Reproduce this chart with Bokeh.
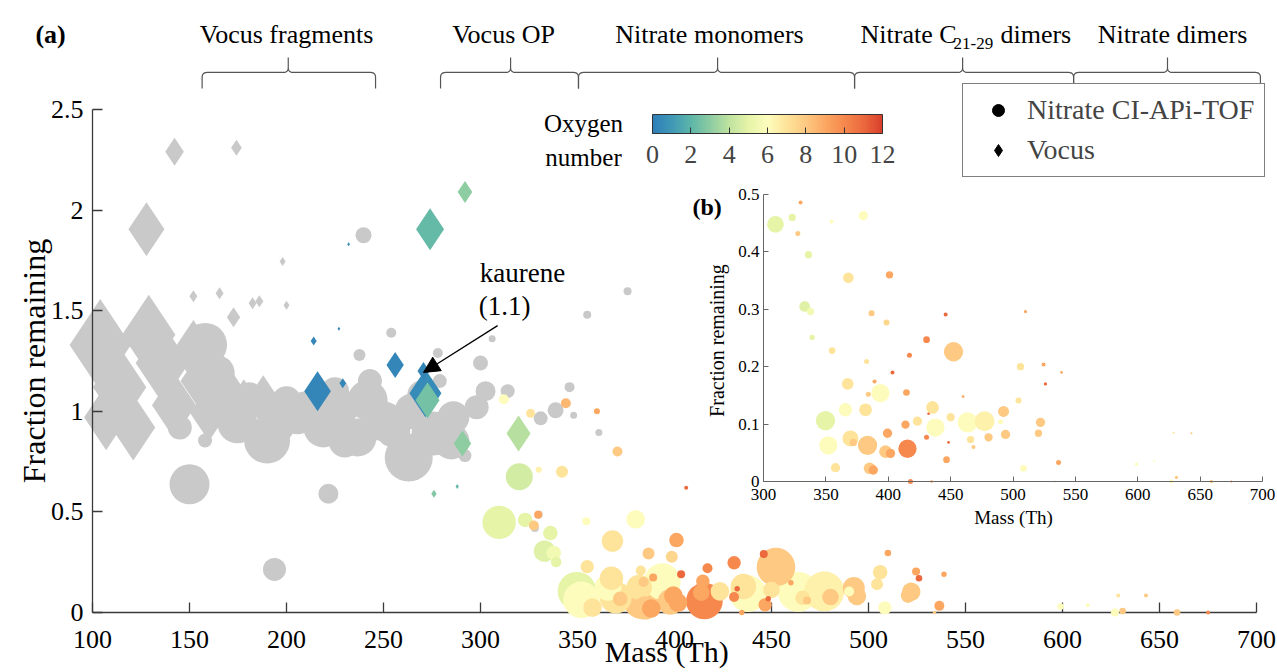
import numpy as np
from bokeh.plotting import figure
from bokeh.models import (Range1d, LinearAxis, ColumnDataSource, LinearColorMapper,
                          ColorBar, FixedTicker, Label, Arrow, NormalHead, Legend,
                          LegendItem, NumeralTickFormatter)
from bokeh.transform import transform
from bokeh.embed import file_html
from bokeh.resources import INLINE

# ------------------------------------------------------------------ data
# Nitrate CI-APi-TOF ions with an assigned oxygen number
nit_mass = [309.6, 323, 329.7, 327.5, 354.5, 380, 336, 368, 401, 333, 337.7, 386.6, 398.6, 446, 510,
            339, 430.7, 452.3, 355, 417, 382.6, 403.4, 506, 524.5, 538.9, 526, 367.5, 389, 393.7, 384,
            414.6, 460, 504.4, 365.7, 381.8, 435.5, 432.3, 492.4, 349.7, 423.4, 450, 463.6, 477.2, 490,
            522, 413.8, 437.8, 399.4, 369.7, 430.7, 466, 480.4, 494, 520.4, 352, 383.4, 372, 397.8,
            401.8, 415.4, 448.3, 468.3, 628.7, 643, 357.7, 385, 388, 446.7, 508.4, 536.5, 599, 613,
            417.8, 434.7, 627, 631, 659, 675, 534,
            312, 325.8, 344, 360, 370.6, 406, 320, 330, 342]
nit_frac = [0.448, 0.46, 0.486, 0.432, 0.453, 0.463, 0.395, 0.355, 0.36, 0.305, 0.296, 0.293, 0.277, 0.291, 0.296,
            0.251, 0.247, 0.226, 0.228, 0.22, 0.209, 0.19, 0.20, 0.204, 0.19, 0.17, 0.17, 0.174, 0.154, 0.152,
            0.155, 0.148, 0.141, 0.125, 0.125, 0.129, 0.118, 0.122, 0.106, 0.105, 0.112, 0.103, 0.105, 0.104,
            0.103, 0.099, 0.094, 0.084, 0.075, 0.077, 0.073, 0.077, 0.082, 0.084, 0.063, 0.063, 0.068, 0.052,
            0.049, 0.057, 0.068, 0.06, 0.085, 0.084, 0.024, 0.023, 0.02, 0.038, 0.023, 0.033, 0.03, 0.036,
            0.0, 0.0, 0.0, 0.007, 0.0, 0.0, 0.0,
            1.06, 0.99, 1.04, 1.0, 0.80, 0.62, 0.675, 0.71, 0.70]
nit_oxygen = [5, 5, 9, 8, 6, 6, 5, 7, 9, 4.8, 5.5, 8, 7.5, 11, 9,
              5, 10, 8, 7, 10, 7, 11, 7, 9, 9, 11, 7, 9, 6, 8,
              9, 9, 7, 6, 7, 7, 11, 8, 5, 7, 7, 6, 6.5, 6,
              8, 9, 6, 9, 7, 10, 7, 8, 8, 8, 6, 8, 8, 8,
              9, 10, 11, 8, 7, 8, 7, 8, 9, 9, 6, 9, 6, 6,
              10, 9, 6, 8, 8, 10, 8,
              6, 7, 8.5, 9, 8, 11, 4.5, 6.5, 7]
nit_signal = [16.7, 7.3, 4, 5, 4, 9.3, 7.3, 10.7, 7.3, 10.7, 7.3, 6, 6, 4, 3.3,
              5.3, 6.7, 19.3, 6.7, 5, 5, 4, 7.3, 4, 2.7, 3.3, 11.7, 4, 18.3, 5,
              6.7, 2.7, 6, 13.3, 12.7, 12.7, 2.7, 11, 19.3, 9.3, 8.3, 20, 20, 5,
              9.3, 8.3, 18.3, 9.3, 16, 5, 7.3, 8.3, 9.3, 7.3, 18.3, 19.3, 7.3, 12.7,
              9.3, 18.3, 2.7, 4, 2, 2, 9.3, 11.7, 9.3, 6.7, 6.7, 5, 3.3, 2,
              5, 2.7, 4, 3.3, 3.3, 2, 1.7,
              5, 4.5, 5, 3, 5, 2, 13.5, 3, 6]

# Nitrate CI-APi-TOF ions without oxygen assignment (grey circles)
gnit_mass = [239.7, 254, 306, 237.6, 278, 300, 355, 375.8, 158, 164, 150, 221.6, 193.8, 174.7, 190,
             205.7, 219, 236.6, 241.8, 255, 263, 275.8, 286, 298, 302.6, 292, 158, 145, 164, 181,
             200, 228, 243, 265, 279, 314, 331, 338.7, 345.9, 348, 361, 330, 328,
             210, 250, 285, 230, 170, 195, 270, 225]
gnit_frac = [1.875, 1.39, 1.36, 1.28, 1.29, 1.24, 1.48, 1.597, 1.33, 1.19, 0.637, 0.59, 0.214, 0.94, 0.855,
             0.97, 0.92, 0.87, 1.055, 0.905, 0.77, 0.89, 0.97, 1.02, 1.10, 0.78, 0.855, 0.92, 1.0, 1.08,
             1.05, 1.02, 1.15, 1.0, 1.15, 1.10, 0.965, 1.005, 1.12, 0.98, 0.895, 0.487, 0.42,
             1.0, 0.95, 0.85, 0.85, 1.05, 0.93, 1.08, 1.1]
gnit_signal = [8, 5, 3.5, 6, 5, 7.5, 4, 4, 22, 18, 20, 10, 11.5, 20, 23,
               17, 20, 19, 20, 17, 24, 22, 16, 12, 10, 6.5, 7, 12, 16, 13,
               15, 18, 12, 18, 7, 7, 7, 8, 5, 3.5, 3.5, 4, 4,
               20, 20, 18, 16, 16, 18, 15, 14]

# Vocus ions with an assigned oxygen number (Vocus OP)
voc_mass = [216, 214, 227, 229, 232, 256, 270.6, 271.6, 272.7, 274, 292, 290.7, 319.6, 276, 288]
voc_frac = [1.10, 1.35, 1.41, 1.14, 1.83, 1.23, 1.20, 1.09, 1.055, 1.905, 2.09, 0.84, 0.89, 0.59, 0.626]
voc_oxygen = [0.3, 0.3, 0.3, 0.3, 0.3, 0.3, 0.3, 0.5, 2.5, 2.2, 3.0, 3.0, 3.8, 2.8, 2.2]
voc_signal = [20, 4.5, 2, 5, 2, 13, 9, 24, 18, 21, 11, 13, 18, 4, 2.5]

# Vocus fragments (grey diamonds)
vfr_mass = [104, 114, 107, 121, 129, 136, 142, 152, 160, 168, 178, 188, 155,
            142.3, 174.2, 127.8, 198, 152, 165.5, 182.5, 186, 200, 172.7]
vfr_frac = [1.33, 1.12, 0.97, 0.92, 1.38, 1.24, 1.03, 1.30, 0.99, 1.10, 1.02, 1.05, 1.15,
            2.29, 2.31, 1.905, 1.745, 1.572, 1.587, 1.537, 1.547, 1.527, 1.468]
vfr_signal = [46, 40, 33, 33, 40, 40, 33, 31, 28, 31, 28, 26, 28,
              14, 8, 27, 4.5, 6, 6, 6, 6, 4.5, 10]

x_ticks = [100, 150, 200, 250, 300, 350, 400, 450, 500, 550, 600, 650, 700]
y_ticks = [0, 0.5, 1, 1.5, 2, 2.5]
inset_x_ticks = [300, 350, 400, 450, 500, 550, 600, 650, 700]
inset_y_ticks = [0, 0.1, 0.2, 0.3, 0.4, 0.5]
oxygen_ticks = [0, 2, 4, 6, 8, 10, 12]

# mass ranges of the compound groups (braces on top)
groups = ["Vocus fragments", "Vocus OP", "Nitrate monomers", "Nitrate C21-29 dimers", "Nitrate dimers"]
group_start = [156.5, 279.4, 350.5, 492.8, 605.7]
group_end = [245.9, 350.5, 492.8, 605.7, 702.0]
group_mid = [200.9, 315.5, 422.2, 548.5, 654.1]

# ------------------------------------------------------------------ style
FONT = "Liberation Serif"
AX = "#3a3a3a"
GREY = "#c9c9c9"
W, H = 1277, 672
XR = (52.58, 710.8)
YR = (-0.2982, 3.0417)
IXR = (-311.6, 712.0)
IYR = (-0.3328, 0.838)
sx = W / (XR[1] - XR[0])
sy = H / (YR[1] - YR[0])

anchors = ["#2f7fb9", "#3f99b6", "#5db6a8", "#8dcca2", "#bfe3a0", "#e6f4a8", "#fdfdbd",
           "#fee49a", "#fdc983", "#fba863", "#f6894e", "#ec6a3e", "#d93f2c"]


def hex2rgb(h):
    return np.array([int(h[i:i + 2], 16) for i in (1, 3, 5)], dtype=float)


anc = np.array([hex2rgb(c) for c in anchors])
pos = np.linspace(0, 1, len(anchors))
tt = np.linspace(0, 1, 256)
palette = ["#%02x%02x%02x" % tuple(int(round(np.interp(t, pos, anc[:, k]))) for k in range(3)) for t in tt]
mapper = LinearColorMapper(palette=palette, low=0, high=12)

p = figure(width=W, height=H, x_range=Range1d(*XR), y_range=Range1d(*YR),
           x_axis_type=None, y_axis_type=None, output_backend="svg",
           toolbar_location=None, min_border=0, outline_line_color=None)
p.extra_x_ranges = {"ix": Range1d(*IXR)}
p.extra_y_ranges = {"iy": Range1d(*IYR)}


def sorted_src(d, key):
    order = np.argsort(-np.asarray(d[key]))
    return ColumnDataSource({k: list(np.asarray(v)[order]) for k, v in d.items()})


# Vocus fragments (grey diamonds)
src = sorted_src({"x": vfr_mass, "y": vfr_frac, "s": [2 * v for v in vfr_signal]}, "s")
p.scatter("x", "y", size="s", source=src, marker="diamond", fill_color=GREY, line_color=None)
# unassigned nitrate (grey circles)
src = sorted_src({"x": gnit_mass, "y": gnit_frac, "s": [2 * v for v in gnit_signal]}, "s")
p.scatter("x", "y", size="s", source=src, marker="circle", fill_color=GREY, line_color=None)
# nitrate with oxygen number
src = sorted_src({"x": nit_mass, "y": nit_frac, "o": nit_oxygen, "s": [2 * v for v in nit_signal]}, "s")
p.scatter("x", "y", size="s", source=src, marker="circle",
          fill_color=transform("o", mapper), line_color=None)
# Vocus OP diamonds
src = sorted_src({"x": voc_mass, "y": voc_frac, "o": voc_oxygen, "s": [2 * v for v in voc_signal]}, "s")
p.scatter("x", "y", size="s", source=src, marker="diamond",
          fill_color=transform("o", mapper), line_color=None)

# inset (b): nitrate ions with fraction remaining <= 0.5
m = [i for i in range(len(nit_mass)) if nit_frac[i] <= 0.5 and nit_mass[i] >= 300]
src = sorted_src({"x": [nit_mass[i] for i in m], "y": [nit_frac[i] for i in m],
                  "o": [nit_oxygen[i] for i in m], "s": [nit_signal[i] for i in m]}, "s")
p.scatter("x", "y", size="s", source=src, marker="circle", x_range_name="ix", y_range_name="iy",
          fill_color=transform("o", mapper), line_color=None)


# ------------------------------------------------------------------ axes
def style_axis(ax, fs, tick_len, standoff, lw=1.3):
    ax.axis_line_color = AX
    ax.axis_line_width = lw
    ax.major_tick_line_color = AX
    ax.major_tick_line_width = lw
    ax.major_tick_in = tick_len
    ax.major_tick_out = 0
    ax.minor_tick_line_color = None
    ax.major_label_text_font = FONT
    ax.major_label_text_font_size = fs
    ax.major_label_text_color = "black"
    ax.major_label_standoff = standoff


xa = LinearAxis(fixed_location=0, bounds=(100, 700), ticker=FixedTicker(ticks=x_ticks))
style_axis(xa, "26px", 10, 18)
xa.level = "underlay"
p.add_layout(xa, "below")
ya = LinearAxis(fixed_location=100, bounds=(0, 2.5), ticker=FixedTicker(ticks=y_ticks),
                formatter=NumeralTickFormatter(format="0.[0]"))
style_axis(ya, "26px", 10, 9)
p.add_layout(ya, "left")

ixa = LinearAxis(x_range_name="ix", y_range_name="iy", fixed_location=0, bounds=(300, 700),
                 ticker=FixedTicker(ticks=inset_x_ticks))
style_axis(ixa, "17px", 5, 8, lw=1)
ixa.axis_line_color = "#666666"
ixa.major_tick_line_color = "#666666"
p.add_layout(ixa, "below")
iya = LinearAxis(x_range_name="ix", y_range_name="iy", fixed_location=300, bounds=(0, 0.5),
                 ticker=FixedTicker(ticks=inset_y_ticks), formatter=NumeralTickFormatter(format="0.[0]"))
style_axis(iya, "17px", 5, 4, lw=1)
iya.axis_line_color = "#666666"
iya.major_tick_line_color = "#666666"
p.add_layout(iya, "left")


def lab(text, x, y, size, rng=None, **kw):
    extra = {}
    if rng == "inset":
        extra = {"x_range_name": "ix", "y_range_name": "iy"}
    p.add_layout(Label(x=x, y=y, text=text, text_font=FONT, text_font_size=f"{size}px",
                       text_color="black", **extra, **kw))


# axis titles
lab("Mass (Th)", 396, -0.196, 30, text_align="center", text_baseline="middle")
lab("Fraction remaining", 70.0, 1.25, 32, text_align="center", text_baseline="middle", angle=np.pi / 2)
lab("Mass (Th)", 500.4, -0.062, 19, rng="inset", text_align="center", text_baseline="middle")
lab("Fraction remaining", 263.0, 0.2456, 20, rng="inset", text_align="center",
    text_baseline="middle", angle=np.pi / 2)
lab("(a)", 70.6, 2.873, 26, text_font_style="bold", text_baseline="alphabetic")
lab("(b)", 243, 0.478, 24, rng="inset", text_font_style="bold", text_baseline="alphabetic")

# braces and group titles
line_y = 2.684
tip_h = 15 / sy
end_h = 16 / sy
r = 5 / sx
v = 5 / sy


def qbez(a, b, c, n=8):
    t = np.linspace(0, 1, n)[:, None]
    return (1 - t) ** 2 * np.array(a) + 2 * (1 - t) * t * np.array(b) + t ** 2 * np.array(c)


xs_all, ys_all = [], []
for x0, x1, xc in zip(group_start, group_end, group_mid):
    segs = [np.array([[x0, line_y - end_h]]),
            qbez((x0, line_y - v), (x0, line_y), (x0 + r, line_y)),
            qbez((xc - r, line_y), (xc, line_y), (xc, line_y + v)),
            np.array([[xc, line_y + tip_h]]),
            qbez((xc, line_y + v), (xc, line_y), (xc + r, line_y)),
            qbez((x1 - r, line_y), (x1, line_y), (x1, line_y - v)),
            np.array([[x1, line_y - end_h]])]
    pts = np.vstack(segs)
    xs_all.append(list(pts[:, 0]))
    ys_all.append(list(pts[:, 1]))
p.multi_line(xs_all, ys_all, line_color="#555555", line_width=1.2)

title_y = 2.873
lab(groups[0], 200.0, title_y, 26, text_align="center", text_baseline="alphabetic")
lab(groups[1], 311.9, title_y, 26, text_align="center", text_baseline="alphabetic")
lab(groups[2], 418.0, title_y, 26, text_align="center", text_baseline="alphabetic")
lab("Nitrate C", 495.9, title_y, 26, text_baseline="alphabetic")
lab("21-29", 543.8, 2.828, 17, text_baseline="alphabetic")
lab("dimers", 568.0, title_y, 26, text_baseline="alphabetic")
lab(groups[4], 656.7, title_y, 26, text_align="center", text_baseline="alphabetic")

# kaurene annotation
lab("kaurene", 321.6, 1.685, 27, text_align="center", text_baseline="middle")
lab("(1.1)", 312.4, 1.521, 27, text_align="center", text_baseline="middle")
p.add_layout(Arrow(end=NormalHead(size=16, fill_color="black", line_color="black"),
                   x_start=308.8, y_start=1.426, x_end=270.6, y_end=1.193,
                   line_color="black", line_width=1.3))

# colour bar
lab("Oxygen", 353.1, 2.43, 25, text_align="center", text_baseline="middle")
lab("number", 353.1, 2.261, 25, text_align="center", text_baseline="middle")
cb = ColorBar(color_mapper=mapper, orientation="horizontal", location=(652, 507), width=230, height=19,
              padding=0, ticker=FixedTicker(ticks=oxygen_ticks), major_label_text_font=FONT,
              major_label_text_font_size="26px", label_standoff=12, major_tick_in=6, major_tick_out=0,
              major_tick_line_color="#333333", bar_line_color="#333333", background_fill_alpha=0,
              border_line_color=None)
p.add_layout(cb)

# legend (glyph keys only; the key renderers hold no visible point)
key_src = ColumnDataSource({"x": np.array([np.nan]), "y": np.array([np.nan])})
rc = p.scatter("x", "y", source=key_src, marker="circle", fill_color="black", line_color="black")
rd = p.scatter("x", "y", source=key_src, marker="diamond", fill_color="black", line_color="black")
leg = Legend(items=[LegendItem(label="Nitrate CI-APi-TOF", renderers=[rc]),
                    LegendItem(label="Vocus", renderers=[rd])],
             location=(962, 495), label_text_font=FONT, label_text_font_size="28px",
             glyph_width=50, glyph_height=30, label_height=30, spacing=8, padding=10,
             label_standoff=4, border_line_color="black", border_line_width=1.2, margin=0,
             background_fill_color="white", background_fill_alpha=1)
p.add_layout(leg)

open("out.html", "w").write(file_html(p, INLINE))
